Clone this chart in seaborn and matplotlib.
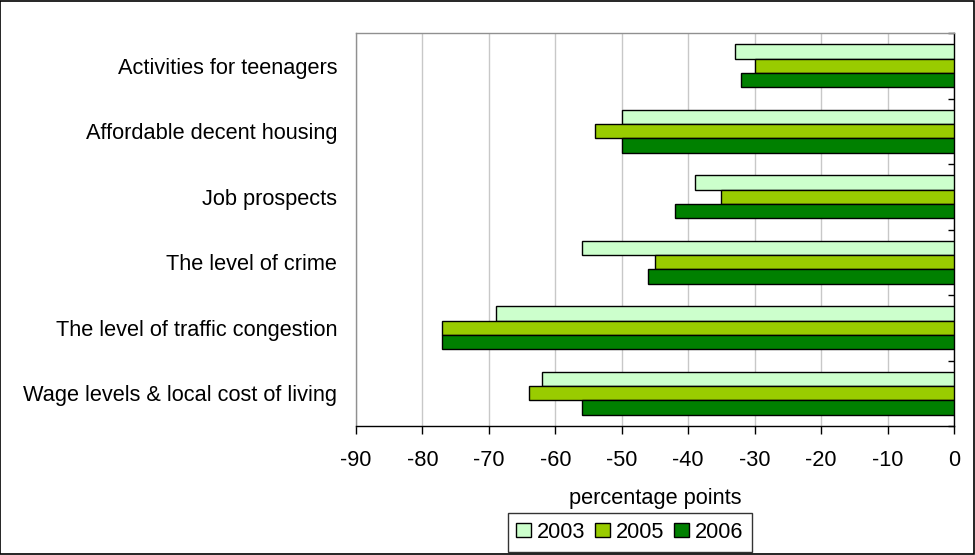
"""Recreate the horizontal grouped bar chart of percentage-point changes."""

import matplotlib

matplotlib.use("Agg")
import matplotlib.pyplot as plt
import pandas as pd
import seaborn as sns
from matplotlib.patches import Rectangle
from matplotlib.ticker import FixedLocator, MultipleLocator

CATEGORIES = [
    "Activities for teenagers",
    "Affordable decent housing",
    "Job prospects",
    "The level of crime",
    "The level of traffic congestion",
    "Wage levels & local cost of living",
]
YEARS = ["2003", "2005", "2006"]
VALUES_2003 = [-33, -50, -39, -56, -69, -62]
VALUES_2005 = [-30, -54, -35, -45, -77, -64]
VALUES_2006 = [-32, -50, -42, -46, -77, -56]
COLORS = ["#CCFFCC", "#99CC00", "#008000"]
FONT_SIZE = 15.7


def build_frame() -> pd.DataFrame:
    """Stack the per-year series into a long table."""
    rows = []
    for year, values in zip(YEARS, [VALUES_2003, VALUES_2005, VALUES_2006]):
        for cat, val in zip(CATEGORIES, values):
            rows.append({"category": cat, "year": year, "value": val})
    return pd.DataFrame(rows)


def main() -> None:
    sns.set_theme(style="white")
    plt.rcParams["font.family"] = ["Liberation Sans", "DejaVu Sans"]
    plt.rcParams["axes.unicode_minus"] = False

    data = build_frame()
    fig = plt.figure(figsize=(9.75, 5.55), dpi=100)
    ax = fig.add_axes([356 / 975, 1 - 426 / 555, 598 / 975, 393 / 555])

    sns.barplot(
        data=data,
        x="value",
        y="category",
        hue="year",
        order=CATEGORIES,
        hue_order=YEARS,
        palette=COLORS,
        saturation=1,
        orient="h",
        width=0.66,
        edgecolor="black",
        linewidth=1.0,
        errorbar=None,
        ax=ax,
        zorder=3,
    )

    ax.set_xlim(-90, 0)
    ax.set_ylim(len(CATEGORIES) - 0.5, -0.5)
    ax.xaxis.set_major_locator(MultipleLocator(10))
    ax.grid(axis="x", color="#C8C8C8", linewidth=1.0, zorder=0)
    ax.grid(axis="y", visible=False)
    ax.set_axisbelow(True)

    for side in ["left", "top"]:
        ax.spines[side].set_color("#909090")
        ax.spines[side].set_linewidth(1.0)
    for side in ["right", "bottom"]:
        ax.spines[side].set_color("black")
        ax.spines[side].set_linewidth(1.0)

    ax.tick_params(axis="x", bottom=True, direction="out", length=5.8, width=1,
                   color="black", labelsize=FONT_SIZE, pad=11.5, labelcolor="black")
    ax.tick_params(axis="y", which="major", left=False, right=False, length=0,
                   labelsize=FONT_SIZE, pad=13.5, labelcolor="black")
    ax.yaxis.set_minor_locator(FixedLocator([i - 0.5 for i in range(len(CATEGORIES) + 1)]))
    ax.tick_params(axis="y", which="minor", left=False, right=True,
                   direction="in", length=4.3, width=1, color="black")

    ax.set_ylabel("")
    ax.set_xlabel("percentage points", fontsize=FONT_SIZE, labelpad=12, color="black")

    handles, labels = ax.get_legend_handles_labels()
    legend = ax.legend(
        handles,
        labels,
        ncol=3,
        loc="center",
        bbox_to_anchor=(630 / 975, 1 - 532.5 / 555),
        bbox_transform=fig.transFigure,
        frameon=True,
        fancybox=False,
        edgecolor="black",
        fontsize=FONT_SIZE,
        handlelength=0.65,
        handleheight=0.62,
        handletextpad=0.3,
        columnspacing=0.45,
        borderpad=0.4,
        borderaxespad=0,
    )
    legend.get_frame().set_linewidth(1.0)
    for text in legend.get_texts():
        text.set_color("black")

    fig.patches.append(
        Rectangle((0.0005, 0.001), 0.998, 0.997, transform=fig.transFigure,
                  fill=False, edgecolor="black", linewidth=1.2)
    )

    fig.savefig("out.png", dpi=100)
    plt.close(fig)


if __name__ == "__main__":
    main()
